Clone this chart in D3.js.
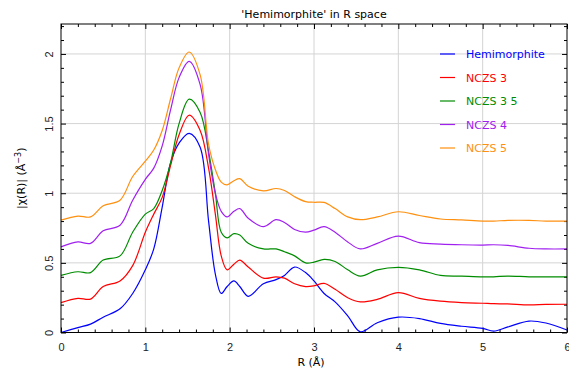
<!DOCTYPE html>
<html>
<head>
<meta charset="utf-8">
<script src="https://cdn.jsdelivr.net/npm/d3@7"></script>
<style>
  body { margin: 0; background: #fff; }
  svg { display: block; font-family: "DejaVu Sans", sans-serif; }
  .grid line { stroke: #d4d4d4; stroke-width: 1; }
  .axis path { display: none; }
  .axis line { stroke: #000; }
  .axis text { font-size: 11px; fill: #222; }
</style>
</head>
<body>
<svg id="chart" width="569" height="374"></svg>
<script>
const rVals = [0, 0.2, 0.35, 0.5, 0.7, 0.85, 1.0, 1.1, 1.2, 1.3, 1.4, 1.52, 1.65, 1.75, 1.83, 1.9, 1.97, 2.05, 2.12, 2.22,
               2.4, 2.55, 2.65, 2.77, 2.9, 3.0, 3.12, 3.25, 3.4, 3.55, 3.75, 4.0, 4.25, 4.5, 4.75, 5.0, 5.13, 5.3, 5.55, 5.75, 6.0];

const hemimorphite = [0, 0.035, 0.06, 0.11, 0.17, 0.28, 0.45, 0.6, 0.9, 1.22, 1.36, 1.43, 1.33, 0.8, 0.42, 0.28, 0.33, 0.37, 0.33, 0.26,
                      0.35, 0.38, 0.41, 0.47, 0.43, 0.37, 0.28, 0.22, 0.12, 0.005, 0.07, 0.11, 0.10, 0.065, 0.045, 0.03, 0.01, 0.04, 0.082, 0.068, 0.018];
const ncSz3 = [0.214, 0.245, 0.24, 0.33, 0.37, 0.48, 0.72, 0.85, 0.97, 1.2, 1.42, 1.56, 1.45, 1.18, 0.85, 0.55, 0.45, 0.49, 0.52, 0.47,
               0.39, 0.40, 0.39, 0.35, 0.33, 0.335, 0.353, 0.31, 0.25, 0.22, 0.238, 0.286, 0.245, 0.225, 0.215, 0.21, 0.207, 0.205, 0.198, 0.202, 0.203];
const ncSz35 = [0.41, 0.436, 0.43, 0.52, 0.55, 0.72, 0.85, 0.89, 1.02, 1.22, 1.5, 1.675, 1.58, 1.3, 1.0, 0.72, 0.68, 0.71, 0.70, 0.64,
                0.60, 0.60, 0.58, 0.55, 0.50, 0.505, 0.525, 0.51, 0.45, 0.405, 0.45, 0.468, 0.45, 0.41, 0.405, 0.40, 0.40, 0.405, 0.40, 0.40, 0.40];
const ncSz4 = [0.615, 0.65, 0.64, 0.73, 0.77, 0.95, 1.1, 1.18, 1.34, 1.6, 1.83, 1.947, 1.78, 1.28, 1.0, 0.87, 0.83, 0.87, 0.89, 0.82,
               0.76, 0.81, 0.79, 0.74, 0.72, 0.735, 0.76, 0.72, 0.65, 0.60, 0.64, 0.692, 0.645, 0.635, 0.63, 0.628, 0.63, 0.625, 0.605, 0.60, 0.60];
const ncSz5 = [0.807, 0.836, 0.83, 0.91, 0.95, 1.12, 1.23, 1.31, 1.45, 1.68, 1.9, 2.014, 1.85, 1.35, 1.17, 1.08, 1.06, 1.09, 1.105, 1.05,
               1.017, 1.034, 1.02, 0.975, 0.94, 0.935, 0.934, 0.89, 0.83, 0.81, 0.83, 0.867, 0.84, 0.815, 0.808, 0.80, 0.80, 0.805, 0.805, 0.80, 0.80];

const seriesNames = ["Hemimorphite", "NCZS 3", "NCZS 3 5", "NCZS 4", "NCZS 5"];
const seriesValues = [hemimorphite, ncSz3, ncSz35, ncSz4, ncSz5];
const seriesColors = ["#0000ff", "#ff0000", "#008c00", "#a020f0", "#ff9010"];

const xTicks = [0, 1, 2, 3, 4, 5, 6];
const yTicks = [0, 0.5, 1, 1.5, 2];

const margin = {left: 61, right: 2, top: 24, bottom: 41.5};
const width = 569, height = 374;

const svg = d3.select("#chart");

const x = d3.scaleLinear().domain([0, 6]).range([margin.left, width - margin.right]);
const y = d3.scaleLinear().domain([0, 2.215]).range([height - margin.bottom, margin.top]);

// grid
const grid = svg.append("g").attr("class", "grid");
grid.selectAll(".gx").data(xTicks.slice(1, -1)).join("line")
    .attr("x1", d => x(d)).attr("x2", d => x(d))
    .attr("y1", y.range()[1]).attr("y2", y.range()[0]);
grid.selectAll(".gy").data(yTicks.slice(1)).join("line")
    .attr("x1", x.range()[0]).attr("x2", x.range()[1])
    .attr("y1", d => y(d)).attr("y2", d => y(d));

// minor ticks
const xMinor = d3.range(0, 6.001, 0.2).filter(v => Math.abs(v - Math.round(v)) > 1e-6);
const yMinor = d3.range(0, 2.21, 0.1).filter(v => Math.abs(v * 2 - Math.round(v * 2)) > 1e-6);

const yb = height - margin.bottom, yt = margin.top;
const xl = margin.left, xr = width - margin.right;

svg.append("g").attr("class", "axis").attr("transform", `translate(0,${yb})`)
    .call(d3.axisBottom(x).tickValues(xMinor).tickSize(-3).tickFormat(""));
svg.append("g").attr("class", "axis").attr("transform", `translate(0,${yb})`)
    .call(d3.axisBottom(x).tickValues(xTicks).tickSize(-5).tickPadding(11).tickFormat(d3.format("d")));
svg.append("g").attr("class", "axis").attr("transform", `translate(0,${yt})`)
    .call(d3.axisTop(x).tickValues(xMinor).tickSize(-3).tickFormat(""));
svg.append("g").attr("class", "axis").attr("transform", `translate(0,${yt})`)
    .call(d3.axisTop(x).tickValues(xTicks).tickSize(-5).tickFormat(""));

svg.append("g").attr("class", "axis").attr("transform", `translate(${xl},0)`)
    .call(d3.axisLeft(y).tickValues(yMinor).tickSize(-3).tickFormat(""));
const yAxis = svg.append("g").attr("class", "axis").attr("transform", `translate(${xl},0)`)
    .call(d3.axisLeft(y).tickValues(yTicks).tickSize(-5).tickFormat(d => d3.format("~g")(d)));
yAxis.selectAll("text")
    .attr("x", null).attr("dy", null)
    .attr("text-anchor", "middle")
    .attr("transform", "translate(-8,0) rotate(-90)");
svg.append("g").attr("class", "axis").attr("transform", `translate(${xr},0)`)
    .call(d3.axisRight(y).tickValues(yMinor).tickSize(-3).tickFormat(""));
svg.append("g").attr("class", "axis").attr("transform", `translate(${xr},0)`)
    .call(d3.axisRight(y).tickValues(yTicks).tickSize(-5).tickFormat(""));

// curves
const line = d3.line()
    .x((d, i) => x(rVals[i]))
    .y(d => y(d))
    .curve(d3.curveCatmullRom.alpha(0.5));

svg.append("g").selectAll("path").data(seriesValues).join("path")
    .attr("d", d => line(d))
    .attr("fill", "none")
    .attr("stroke", (d, i) => seriesColors[i])
    .attr("stroke-width", 1.2);

// frame
svg.append("rect")
    .attr("x", xl).attr("y", yt)
    .attr("width", xr - xl).attr("height", yb - yt)
    .attr("fill", "none").attr("stroke", "#000").attr("stroke-width", 1);

// title and labels
svg.append("text")
    .attr("x", (xl + xr) / 2).attr("y", 18)
    .attr("text-anchor", "middle")
    .style("font-size", "11px")
    .text("'Hemimorphite' in R space");

svg.append("text")
    .attr("x", 311).attr("y", 366)
    .attr("text-anchor", "middle")
    .style("font-size", "11px")
    .text("R (Å)");

const yl = svg.append("text")
    .attr("transform", `translate(25,${(yt + yb) / 2}) rotate(-90)`)
    .attr("text-anchor", "middle")
    .style("font-size", "11px");
yl.append("tspan").text("|χ(R)| (Å");
yl.append("tspan").attr("dy", -4).style("font-size", "8px").text("−3");
yl.append("tspan").attr("dy", 4).text(")");

// legend
const legend = svg.append("g").selectAll("g").data(seriesNames).join("g")
    .attr("transform", (d, i) => `translate(440,${54 + i * 23.5})`);
legend.append("line")
    .attr("x1", 0).attr("x2", 15)
    .attr("stroke", (d, i) => seriesColors[i]).attr("stroke-width", 1.2);
legend.append("text")
    .attr("x", 26).attr("y", 4)
    .style("font-size", "11px")
    .attr("fill", (d, i) => seriesColors[i])
    .text(d => d);
</script>
</body>
</html>
